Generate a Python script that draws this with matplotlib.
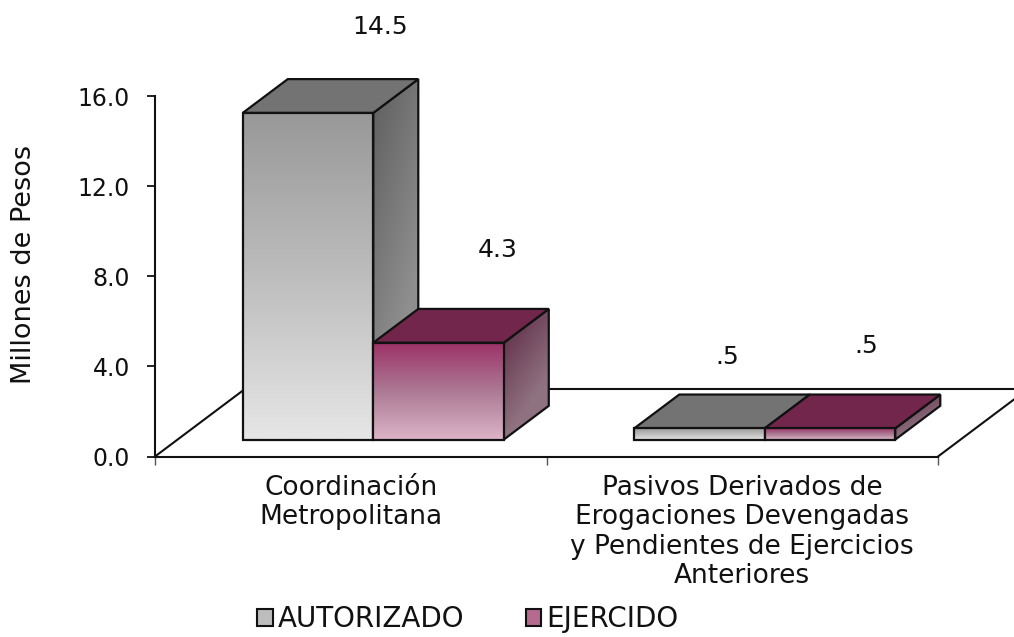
import numpy as np
import matplotlib
matplotlib.use("Agg")
import matplotlib.pyplot as plt
from matplotlib.patches import Polygon, Patch

categories = ["Coordinación\nMetropolitana",
              "Pasivos Derivados de\nErogaciones Devengadas\ny Pendientes de Ejercicios\nAnteriores"]
autorizado = [14.5, 0.5]
ejercido = [4.3, 0.5]
value_labels_a = ["14.5", ".5"]
value_labels_e = ["4.3", ".5"]
y_ticks = [0, 4, 8, 12, 16]
y_tick_labels = ["0.0", "4.0", "8.0", "12.0", "16.0"]

# profundidad falsa del piso, en unidades de datos
DEPTH_X = 0.23
DEPTH_Y = 3.0
BAR_W = 1 / 3
INK = "#111111"
FONT = "DejaVu Sans"

# colores: cara frontal (arriba, abajo), lateral (arriba, abajo), tapa
GRAY = dict(front=["#999999", "#bdbdbd", "#e6e6e6"], side=["#5e5e5e", "#8e8e8e"], top="#737373")
WINE = dict(front=["#9c3468", "#ad7a95", "#dcb4c8"], side=["#5a2642", "#8f7280"], top="#72264c")

z = [3.0]


def next_z():
    z[0] += 0.1
    return z[0]


def hex_rgb(c):
    return np.array(matplotlib.colors.to_rgb(c))


def face(ax, fig, pts, stops, diagonal=False):
    # cara con degradado recortado al poligono
    pts = np.array(pts)
    n = 64
    t = np.linspace(0, 1, n)
    cols = np.array([np.interp(t, np.linspace(0, 1, len(stops)), [hex_rgb(s)[i] for s in stops]) for i in range(3)]).T
    img = cols[:, None, :]
    if diagonal:
        img = np.array([[cols[min(n - 1, r + c // 2)] for c in range(n)] for r in range(n)])
    extent = (pts[:, 0].min(), pts[:, 0].max(), pts[:, 1].min(), pts[:, 1].max())
    im = ax.imshow(img, extent=extent, aspect="auto", origin="upper", zorder=next_z(), interpolation="bilinear")
    poly = Polygon(pts, closed=True, facecolor="none", edgecolor=INK, lw=1.6, zorder=next_z(), clip_on=False)
    ax.add_patch(poly)
    im.set_clip_box(fig.bbox)
    im.set_clip_path(poly)


def box(ax, fig, x, value, style):
    y0 = DEPTH_Y / 4
    y1 = y0 + value
    # lateral
    face(ax, fig, [(x + BAR_W, y0), (x + BAR_W + DEPTH_X / 2, y0 + DEPTH_Y / 2),
                   (x + BAR_W + DEPTH_X / 2, y1 + DEPTH_Y / 2), (x + BAR_W, y1)], style["side"], diagonal=True)
    # tapa
    ax.add_patch(Polygon([(x, y1), (x + BAR_W, y1), (x + BAR_W + DEPTH_X / 2, y1 + DEPTH_Y / 2),
                          (x + DEPTH_X / 2, y1 + DEPTH_Y / 2)], closed=True, facecolor=style["top"],
                         edgecolor=INK, lw=1.6, zorder=next_z(), clip_on=False))
    # frente
    face(ax, fig, [(x, y0), (x + BAR_W, y0), (x + BAR_W, y1), (x, y1)], style["front"])


plt.rcParams["font.family"] = [FONT]
W, H = 1014, 637
fig = plt.figure(figsize=(W / 100, H / 100), dpi=100)
ax = fig.add_axes([155 / W, 1 - 456.5 / H, (938 - 155) / W, (456.5 - 96) / H])
ax.set_xlim(0, 2)
ax.set_ylim(0, 16)

# piso
ax.plot([0, DEPTH_X], [0, DEPTH_Y], color=INK, lw=1.5, clip_on=False, zorder=1)
ax.plot([2, 2 + DEPTH_X], [0, DEPTH_Y], color=INK, lw=1.5, clip_on=False, zorder=1)
ax.plot([DEPTH_X, 2 + DEPTH_X], [DEPTH_Y, DEPTH_Y], color=INK, lw=1.5, clip_on=False, zorder=1)

offsets_a = [(72, 86), (28, 71)]
offsets_e = [(59, 93), (36, 82)]
for i in range(len(categories)):
    x = i + 0.5 + DEPTH_X / 4 - BAR_W
    box(ax, fig, x, autorizado[i], GRAY)
    box(ax, fig, x + BAR_W, ejercido[i], WINE)
    top = DEPTH_Y / 4
    ax.annotate(value_labels_a[i], (x + BAR_W / 2, top + autorizado[i]), xytext=offsets_a[i],
                textcoords="offset pixels", ha="center", va="center", fontsize=18, color=INK, annotation_clip=False)
    ax.annotate(value_labels_e[i], (x + BAR_W * 1.5, top + ejercido[i]), xytext=offsets_e[i],
                textcoords="offset pixels", ha="center", va="center", fontsize=18, color=INK, annotation_clip=False)

ax.set_xlim(0, 2)
ax.set_ylim(0, 16)
ax.patch.set_visible(False)
for s in ["top", "right"]:
    ax.spines[s].set_visible(False)
for s in ["left", "bottom"]:
    ax.spines[s].set_color(INK)
    ax.spines[s].set_linewidth(1.5)

ax.set_yticks(y_ticks)
ax.set_yticklabels(y_tick_labels, fontsize=17)
ax.tick_params(axis="y", length=6, width=1.3, color=INK, labelcolor=INK, pad=12)
ax.set_xticks([0, 1, 2])
ax.set_xticklabels([])
ax.tick_params(axis="x", which="major", length=6, width=1.0, color="#555555")
ax.set_xticks([0.5, 1.5], minor=True)
ax.set_xticklabels(categories, minor=True, fontsize=19, linespacing=1.18, color=INK)
ax.tick_params(axis="x", which="minor", length=0, pad=13)
ax.set_ylabel("Millones de Pesos", fontsize=19.5, color=INK)
ax.yaxis.set_label_coords((37 - 155) / 783, 0.534)

handles = [Patch(facecolor=GRAY["front"][1], edgecolor=INK, lw=1.5),
           Patch(facecolor="#b56a90", edgecolor=INK, lw=1.5)]
fig.legend(handles, ["AUTORIZADO", "EJERCIDO"], loc="center", bbox_to_anchor=(468 / W, 1 - 619 / H), ncol=2,
           frameon=False, fontsize=20, handlelength=0.55, handleheight=0.55, handletextpad=0.2, columnspacing=2.2,
           labelcolor=INK, borderpad=0)

fig.savefig("out.png", dpi=100)
